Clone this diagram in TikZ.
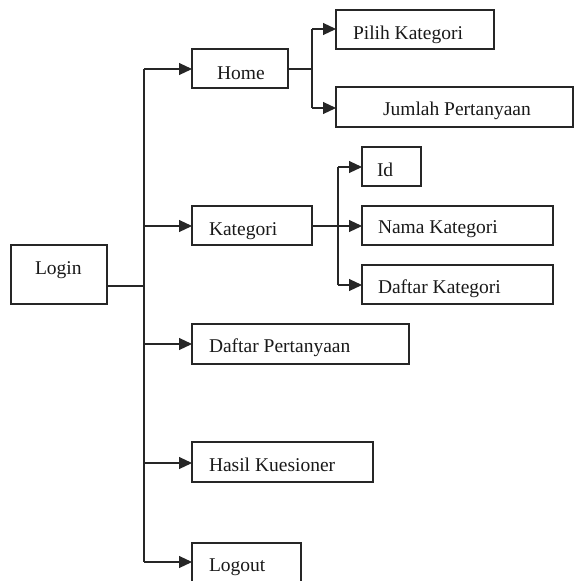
\documentclass[tikz,border=0pt]{standalone}
\usepackage{fontspec}
\setmainfont{Liberation Serif}
\usetikzlibrary{arrows.meta}
\tikzset{
  boxnode/.style={draw=black!85, line width=1.1pt, rectangle, inner sep=0pt, outer sep=0pt, anchor=north west},
  lbl/.style={anchor=base west, inner sep=0pt, outer sep=0pt, font=\fontsize{19.5}{22}\selectfont, text=black!90},
  conn/.style={draw=black!85, line width=1.1pt},
  arr/.style={conn, -{Triangle[length=13pt,width=12pt]}}
}
\begin{document}
\begin{tikzpicture}[x=1pt,y=-1pt]
\useasboundingbox (0,0) rectangle (574,581);
\clip (0,0) rectangle (574,581);
% boxes
\node[boxnode, minimum width=96pt, minimum height=59pt] (login) at (11,245) {};
\node[boxnode, minimum width=96pt, minimum height=39pt] (home) at (192,49) {};
\node[boxnode, minimum width=120pt, minimum height=39pt] (kategori) at (192,206) {};
\node[boxnode, minimum width=158pt, minimum height=39pt] (pilih) at (336,10) {};
\node[boxnode, minimum width=237pt, minimum height=40pt] (jumlah) at (336,87) {};
\node[boxnode, minimum width=59pt, minimum height=39pt] (id) at (362,147) {};
\node[boxnode, minimum width=191pt, minimum height=39pt] (nama) at (362,206) {};
\node[boxnode, minimum width=191pt, minimum height=39pt] (dkat) at (362,265) {};
\node[boxnode, minimum width=217pt, minimum height=40pt] (dpert) at (192,324) {};
\node[boxnode, minimum width=181pt, minimum height=40pt] (hasil) at (192,442) {};
\node[boxnode, minimum width=109pt, minimum height=60pt] (logout) at (192,543) {};
% labels
\node[lbl] (tlogin) at (35,274) {Login};
\node[lbl] (thome) at (217,79) {Home};
\node[lbl] (tkat) at (209,235) {Kategori};
\node[lbl] (tpilih) at (353,39) {Pilih Kategori};
\node[lbl] (tjum) at (383,115) {Jumlah Pertanyaan};
\node[lbl] (tid) at (377,176) {Id};
\node[lbl] (tnama) at (378,233) {Nama Kategori};
\node[lbl] (tdkat) at (378,293) {Daftar Kategori};
\node[lbl] (tdpert) at (209,352) {Daftar Pertanyaan};
\node[lbl] (thasil) at (209,471) {Hasil Kuesioner};
\node[lbl] (tlogout) at (209,571) {Logout};
% trunk coordinates
\coordinate (lj) at (144,286);
\coordinate (t1) at (144,69);
\coordinate (t2) at (144,226);
\coordinate (t3) at (144,344);
\coordinate (t4) at (144,463);
\coordinate (t5) at (144,562);
\draw[conn] (login.east |- lj) -- (lj);
\draw[conn] (t1) -- (t5);
\draw[arr] (t1) -- (t1 -| home.west);
\draw[arr] (t2) -- (t2 -| kategori.west);
\draw[arr] (t3) -- (t3 -| dpert.west);
\draw[arr] (t4) -- (t4 -| hasil.west);
\draw[arr] (t5) -- (t5 -| logout.west);
% home branch
\coordinate (hj) at (312,69);
\coordinate (h1) at (312,29);
\coordinate (h2) at (312,108);
\draw[conn] (home.east |- hj) -- (hj);
\draw[conn] (h1) -- (h2);
\draw[arr] (h1) -- (h1 -| pilih.west);
\draw[arr] (h2) -- (h2 -| jumlah.west);
% kategori branch
\coordinate (kj) at (312,226);
\coordinate (k1) at (338,167);
\coordinate (k3) at (338,285);
\draw[arr] (kj) -- (kj -| nama.west);
\draw[conn] (k1) -- (k3);
\draw[arr] (k1) -- (k1 -| id.west);
\draw[arr] (k3) -- (k3 -| dkat.west);
\end{tikzpicture}
\end{document}
